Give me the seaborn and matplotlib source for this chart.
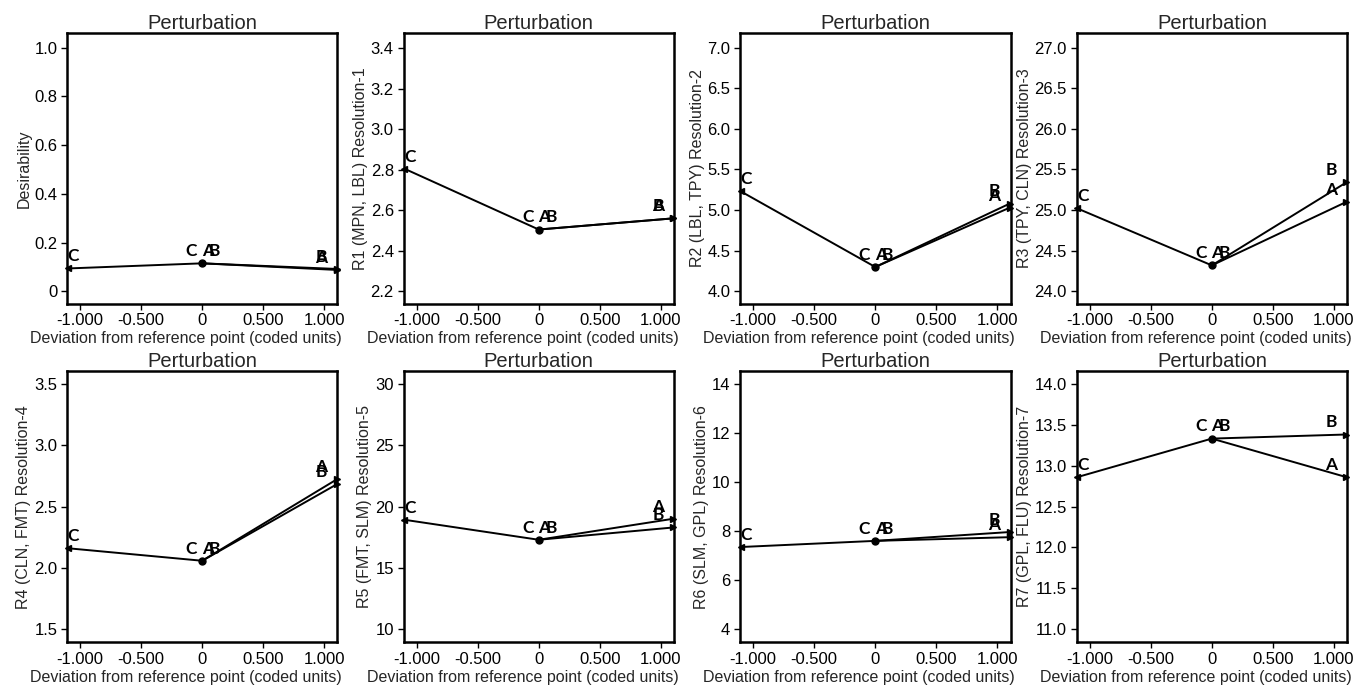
import matplotlib
matplotlib.use("Agg")
import matplotlib.pyplot as plt
import seaborn as sns
import pandas as pd
import numpy as np

# ---------------- data ----------------
ylabels = ["Desirability",
           "R1 (MPN, LBL) Resolution-1",
           "R2 (LBL, TPY) Resolution-2",
           "R3 (TPY, CLN) Resolution-3",
           "R4 (CLN, FMT) Resolution-4",
           "R5 (FMT, SLM) Resolution-5",
           "R6 (SLM, GPL) Resolution-6",
           "R7 (GPL, FLU) Resolution-7"]
center = [0.115, 2.505, 4.30, 24.32, 2.058, 17.29, 7.60, 13.33]
c_low = [0.094, 2.805, 5.23, 25.02, 2.16, 18.92, 7.35, 12.86]
a_high = [0.088, 2.56, 5.03, 25.10, 2.72, 19.00, 7.75, 12.86]
b_high = [0.092, 2.56, 5.08, 25.34, 2.68, 18.29, 7.96, 13.38]
x_low, x_mid, x_high = -1.1, 0.0, 1.1
ylims = [(-0.05, 1.06), (2.14, 3.474), (3.85, 7.18), (23.85, 27.18),
         (1.396, 3.6), (8.96, 31.0), (3.48, 14.5), (10.845, 14.15)]
yticks = [[0, 0.2, 0.4, 0.6, 0.8, 1.0],
          [2.2, 2.4, 2.6, 2.8, 3.0, 3.2, 3.4],
          [4.0, 4.5, 5.0, 5.5, 6.0, 6.5, 7.0],
          [24.0, 24.5, 25.0, 25.5, 26.0, 26.5, 27.0],
          [1.5, 2.0, 2.5, 3.0, 3.5],
          [10, 15, 20, 25, 30],
          [4, 6, 8, 10, 12, 14],
          [11.0, 11.5, 12.0, 12.5, 13.0, 13.5, 14.0]]
ytick_labels = [["0", "0.2", "0.4", "0.6", "0.8", "1.0"],
                ["2.2", "2.4", "2.6", "2.8", "3.0", "3.2", "3.4"],
                ["4.0", "4.5", "5.0", "5.5", "6.0", "6.5", "7.0"],
                ["24.0", "24.5", "25.0", "25.5", "26.0", "26.5", "27.0"],
                ["1.5", "2.0", "2.5", "3.0", "3.5"],
                ["10", "15", "20", "25", "30"],
                ["4", "6", "8", "10", "12", "14"],
                ["11.0", "11.5", "12.0", "12.5", "13.0", "13.5", "14.0"]]
xticks = [-1.0, -0.5, 0.0, 0.5, 1.0]
xtick_labels = ["-1.000", "-0.500", "0", "0.500", "1.000"]
title = "Perturbation"
xlabel = "Deviation from reference point (coded units)"

# ---------------- style ----------------
sns.set_style("ticks")
plt.rcParams['font.family'] = ['Liberation Sans', 'DejaVu Sans']
plt.rcParams['axes.linewidth'] = 1.8
plt.rcParams['xtick.major.width'] = 1.0
plt.rcParams['ytick.major.width'] = 1.0
plt.rcParams['xtick.major.size'] = 4
plt.rcParams['ytick.major.size'] = 4
plt.rcParams['xtick.color'] = 'black'
plt.rcParams['ytick.color'] = 'black'
plt.rcParams['axes.edgecolor'] = 'black'

fig, axes = plt.subplots(2, 4, figsize=(13.53, 6.86), dpi=100)
fig.subplots_adjust(left=0.0495, right=0.9956, top=0.9519, bottom=0.0641,
                    wspace=0.2444, hspace=0.251)

lbl_kw = dict(textcoords='offset points', ha='center', va='bottom',
              fontsize=12.5, fontweight='bold', color='black',
              family=['Lato', 'DejaVu Sans'])

for i, ax in enumerate(axes.flat):
    df = pd.DataFrame({
        "x": [x_low, x_mid, x_mid, x_high, x_mid, x_high],
        "y": [c_low[i], center[i], center[i], a_high[i], center[i], b_high[i]],
        "factor": ["C", "C", "A", "A", "B", "B"],
    })
    sns.lineplot(data=df, x="x", y="y", units="factor", estimator=None,
                 color="black", linewidth=1.4, ax=ax, legend=False)
    # end markers
    ax.plot([x_low], [c_low[i]], marker='<', ms=4, color='black', clip_on=False)
    ax.plot([x_high, x_high], [a_high[i], b_high[i]], ls='none', marker='>',
            ms=4, color='black', clip_on=False)
    ax.plot([x_mid], [center[i]], marker='o', ms=5, color='black')

    # factor labels
    ax.annotate("C", (x_low, c_low[i]), xytext=(4, 3), **lbl_kw)
    ax.annotate("C", (x_mid, center[i]), xytext=(-8, 3), **lbl_kw)
    ax.annotate("A", (x_mid, center[i]), xytext=(4, 3), **lbl_kw)
    ax.annotate("B", (x_mid, center[i]), xytext=(9, 3), **lbl_kw)
    ax.annotate("A", (x_high, a_high[i]), xytext=(-11, 3), **lbl_kw)
    ax.annotate("B", (x_high, b_high[i]), xytext=(-11, 3), **lbl_kw)

    ax.set_xlim(-1.107, 1.107)
    ax.set_ylim(*ylims[i])
    ax.set_xticks(xticks)
    ax.set_xticklabels(xtick_labels, fontsize=12)
    ax.set_yticks(yticks[i])
    ax.set_yticklabels(ytick_labels[i], fontsize=12)
    ax.tick_params(axis='both', pad=3, direction='out')
    ax.set_xlabel(xlabel, fontsize=11.5, labelpad=2)
    ax.xaxis.label.set_x(0.44)
    ax.set_ylabel(ylabels[i], fontsize=11.5, labelpad=2)
    ax.set_title(title, fontsize=14.5, pad=3)
    for s in ax.spines.values():
        s.set_visible(True)
        s.set_color('black')

fig.savefig("out.png", dpi=100)
